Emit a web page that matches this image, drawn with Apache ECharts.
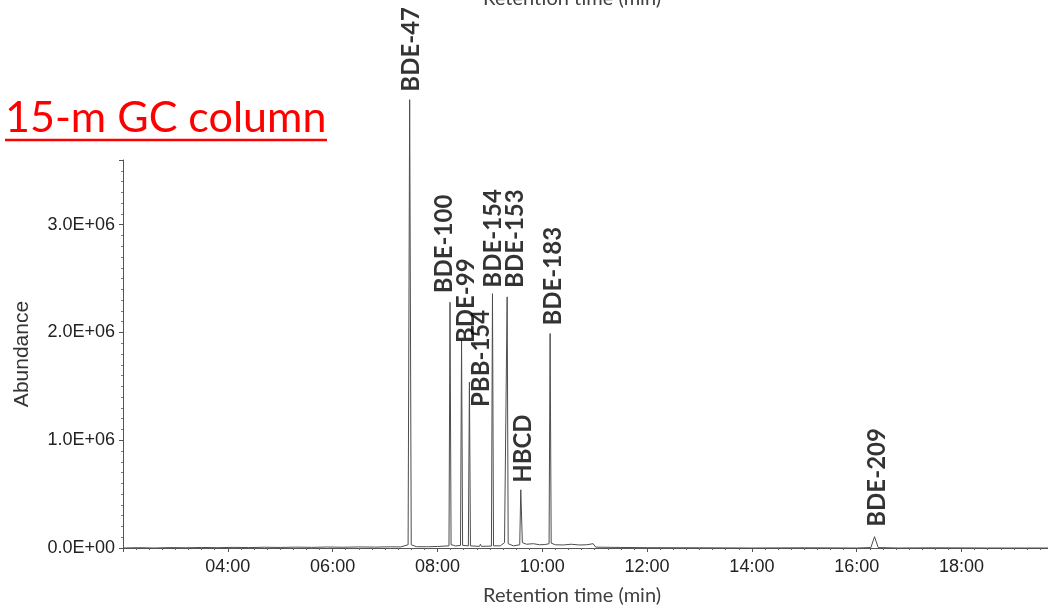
<!DOCTYPE html>
<html>
<head>
<meta charset="utf-8">
<script src="https://cdn.jsdelivr.net/npm/echarts@6/dist/echarts.min.js"></script>
<style>
  html, body { margin: 0; padding: 0; background: #fff; }
  #chart { width: 1048px; height: 611px; }
</style>
</head>
<body>
<div id="chart"></div>
<script>
// chromatogram trace, time in minutes, abundance in counts
const traceTimes = [
  2.00, 2.30, 2.60, 2.90, 3.20, 3.50, 3.80, 4.10, 4.40, 4.70, 5.00, 5.30, 5.60, 5.90,
  6.20, 6.50, 6.80, 7.10, 7.30, 7.44, 7.47, 7.50, 7.60, 7.79, 7.81, 7.83, 8.00, 8.22,
  8.24, 8.26, 8.31, 8.35, 8.44, 8.46, 8.48, 8.59, 8.61, 8.63, 8.80, 8.82, 8.84, 9.03,
  9.05, 9.07, 9.20, 9.28, 9.31, 9.33, 9.35, 9.45, 9.57, 9.59, 9.62, 9.70, 9.83, 9.95,
  10.05, 10.13, 10.15, 10.17, 10.25, 10.40, 10.55, 10.70, 10.85, 10.97, 11.02, 11.50,
  12.00, 13.00, 14.00, 15.00, 16.00, 16.27, 16.34, 16.41, 16.80, 17.50, 18.50, 19.65
];
const traceValues = [
  0.000e6, 0.003e6, 0.000e6, 0.004e6, 0.002e6, 0.005e6, 0.003e6, 0.006e6, 0.004e6, 0.007e6, 0.005e6, 0.008e6, 0.006e6, 0.009e6,
  0.007e6, 0.010e6, 0.008e6, 0.011e6, 0.010e6, 0.030e6, 4.160e6, 0.030e6, 0.012e6, 0.012e6, 0.030e6, 0.012e6, 0.014e6, 0.020e6,
  2.280e6, 0.030e6, 0.025e6, 0.018e6, 0.025e6, 1.930e6, 0.025e6, 0.020e6, 1.540e6, 0.020e6, 0.015e6, 0.035e6, 0.015e6, 0.018e6,
  2.360e6, 0.020e6, 0.020e6, 0.050e6, 0.040e6, 2.330e6, 0.040e6, 0.020e6, 0.030e6, 0.540e6, 0.050e6, 0.035e6, 0.040e6, 0.030e6,
  0.032e6, 0.040e6, 1.990e6, 0.045e6, 0.030e6, 0.028e6, 0.035e6, 0.028e6, 0.030e6, 0.040e6, 0.008e6, 0.005e6,
  0.003e6, 0.002e6, 0.000e6, 0.002e6, 0.000e6, 0.004e6, 0.105e6, 0.004e6, 0.000e6, 0.002e6, 0.000e6, 0.000e6
];

// labelled peaks
const peakNames = ['BDE-47', 'BDE-100', 'BDE-99', 'PBB-154', 'BDE-154', 'BDE-153', 'HBCD', 'BDE-183', 'BDE-209'];
const peakTimes = [7.47, 8.24, 8.46, 8.61, 9.05, 9.33, 9.59, 10.15, 16.34];
const peakHeights = [4.16e6, 2.28e6, 1.93e6, 1.54e6, 2.36e6, 2.33e6, 0.54e6, 1.99e6, 0.105e6];

// axis ticks
const xTickInterval = 2;
const yTickInterval = 1e6;

// hand placement of the rotated peak names: [dx, gap above peak top] in px
const labelNudge = {
  'BDE-47': [2, 8], 'BDE-100': [-6, 9], 'BDE-99': [5, -3], 'PBB-154': [12, -25],
  'BDE-154': [1, 6], 'BDE-153': [8, 9], 'HBCD': [2, 7], 'BDE-183': [3, 8], 'BDE-209': [3, 10]
};

const chart = echarts.init(document.getElementById('chart'));

const trace = traceTimes.map((t, i) => [t, traceValues[i]]);
// label offset is applied in the rotated frame: [up, right]
const peaks = peakNames.map((n, i) => ({
  name: n,
  value: [peakTimes[i], peakHeights[i]],
  label: { offset: [labelNudge[n][1], labelNudge[n][0]] }
}));

const fmtY = v => v === 0 ? '0.0E+00' : (v / 1e6).toFixed(1) + 'E+06';
const fmtX = v => String(Math.round(v)).padStart(2, '0') + ':00';

const option = {
  animation: false,
  grid: { left: 123, right: 0, top: 160, bottom: 63 },
  xAxis: {
    type: 'value',
    min: 2,
    max: 19.65,
    interval: xTickInterval,
    splitLine: { show: false },
    axisLine: { lineStyle: { color: '#555', width: 1 } },
    axisTick: { length: 4, lineStyle: { color: '#555' } },
    minorTick: { show: true, splitNumber: 8, length: 2, lineStyle: { color: '#666' } },
    axisLabel: {
      formatter: fmtX, color: '#222', fontSize: 18, margin: 10,
      fontFamily: 'Liberation Sans', showMinLabel: false, showMaxLabel: false
    }
  },
  yAxis: {
    type: 'value',
    min: 0,
    max: 3.6e6,
    interval: yTickInterval,
    splitLine: { show: false },
    axisLine: { show: true, lineStyle: { color: '#555', width: 1 } },
    axisTick: { show: true, length: 4, lineStyle: { color: '#555' } },
    minorTick: { show: true, splitNumber: 10, length: 2, lineStyle: { color: '#777' } },
    axisLabel: {
      formatter: fmtY, color: '#222', fontSize: 18, margin: 8,
      fontFamily: 'Liberation Sans', showMaxLabel: false
    },
    name: 'Abundance',
    nameLocation: 'middle',
    nameGap: 90,
    nameRotate: 90,
    nameTextStyle: { fontSize: 21, color: '#333', fontFamily: 'Liberation Sans' }
  },
  series: [
    {
      type: 'line',
      data: trace,
      clip: false,
      showSymbol: false,
      symbol: 'none',
      lineStyle: { color: '#4d4d4d', width: 1 },
      z: 2
    },
    {
      type: 'scatter',
      data: peaks,
      clip: false,
      symbolSize: 0,
      label: {
        show: true,
        position: 'top',
        distance: 0,
        rotate: 90,
        align: 'left',
        verticalAlign: 'middle',
        formatter: p => p.name,
        fontFamily: 'Lato',
        fontWeight: 'bold',
        fontSize: 24,
        color: '#000'
      },
      z: 3
    }
  ],
  graphic: [
    {
      type: 'text', left: 5, top: 97,
      style: { text: '15-m GC column', fill: '#ff0000', font: '43px Lato' }
    },
    {
      type: 'line', shape: { x1: 5, y1: 140, x2: 327, y2: 140 },
      style: { stroke: '#ff0000', lineWidth: 2.5 }
    },
    {
      type: 'text', x: 483, y: 586,
      style: { text: 'Retention time (min)', fill: '#404040', font: '20px Lato' }
    },
    {
      type: 'text', x: 483, y: -11,
      style: { text: 'Retention time (min)', fill: '#404040', font: '20px Lato' }
    }
  ]
};

chart.setOption(option);
</script>
</body>
</html>
